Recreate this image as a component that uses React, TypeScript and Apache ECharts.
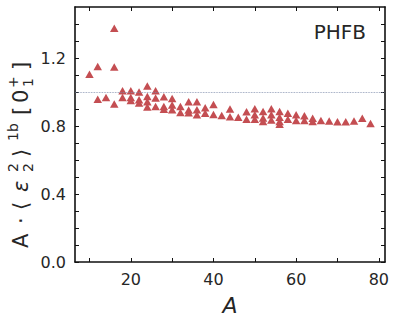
import React, { useEffect, useRef } from 'react';
import * as echarts from 'echarts';

// Mass numbers A and the PHFB values of A·<eps2^2>^{1b}[0_1^+] at each A
const massNumbers = [10, 12, 14, 16, 18, 20, 22, 24, 26, 28, 30, 32, 34, 36, 38, 40, 42, 44, 46, 48, 50, 52, 54, 56, 58, 60, 62, 64, 66, 68, 70, 72, 74, 76, 78];
const ratioValues: number[][] = [
  [1.105],
  [1.15, 0.957],
  [0.967],
  [1.375, 1.147, 0.93],
  [1.007, 0.967],
  [1.008, 0.968, 0.95],
  [1.0, 0.955, 0.936],
  [1.035, 0.974, 0.943, 0.912],
  [1.007, 0.965, 0.914],
  [0.972, 0.914, 0.898],
  [0.962, 0.924, 0.895],
  [0.914, 0.88],
  [0.943, 0.894, 0.878],
  [0.943, 0.896, 0.866],
  [0.907, 0.875],
  [0.927, 0.868],
  [0.862],
  [0.9, 0.854],
  [0.851],
  [0.884, 0.84],
  [0.902, 0.866, 0.84],
  [0.886, 0.847, 0.827],
  [0.902, 0.866, 0.836],
  [0.886, 0.852, 0.826, 0.81],
  [0.875, 0.84],
  [0.866, 0.832],
  [0.86, 0.832],
  [0.846, 0.827],
  [0.832],
  [0.83],
  [0.825],
  [0.825],
  [0.83],
  [0.845],
  [0.814],
];
const xTickValues = [10, 20, 30, 40, 50, 60, 70, 80];
const xLabelValues = [20, 40, 60, 80];
const yTickValues = [0, 0.1, 0.2, 0.3, 0.4, 0.5, 0.6, 0.7, 0.8, 0.9, 1.0, 1.1, 1.2, 1.3, 1.4];
const yLabelValues = [0, 0.4, 0.8, 1.2];
const referenceLevel = 1.0;
const panelLabel = 'PHFB';
const xAxisTitle = 'A';

export default function App() {
  const ref = useRef<HTMLDivElement>(null);
  useEffect(() => {
    const chart = echarts.init(ref.current!, null, { renderer: 'svg' });
    const points: number[][] = [];
    massNumbers.forEach((a, i) => ratioValues[i].forEach((v) => points.push([a, v])));

    const font = 'DejaVu Sans';
    const textColor = '#262626';
    const lineColor = '#111';

    const xBase = {
      type: 'value', min: 6.5, max: 81.5,
      axisLine: { show: true, onZero: false, lineStyle: { color: lineColor, width: 1.6 } },
      axisTick: { show: true, inside: true, length: 4, customValues: xTickValues, lineStyle: { color: lineColor, width: 1 } },
      splitLine: { show: false },
    };
    const yBase = {
      type: 'value', min: 0, max: 1.5,
      axisLine: { show: true, onZero: false, lineStyle: { color: lineColor, width: 1.6 } },
      axisTick: { show: true, inside: true, length: 4, customValues: yTickValues, lineStyle: { color: lineColor, width: 1 } },
      splitLine: { show: false },
    };

    const main = { fontFamily: font, fontSize: 21, fill: textColor };
    const small = { fontFamily: font, fontSize: 14, fill: textColor };
    const piece = (text: string, x: number, kind: 'main' | 'sup' | 'sub', italic = false) => {
      const st: any = kind === 'main' ? { ...main } : { ...small };
      const y = kind === 'main' ? -7.5 : kind === 'sup' ? -15 : -0.5;
      return {
        type: 'text', x, y,
        style: { ...st, text, fontStyle: italic ? 'italic' : 'normal', textAlign: 'left', align: 'left', textVerticalAlign: 'middle', verticalAlign: 'middle' },
      };
    };

    chart.setOption({
      animation: false,
      grid: { left: 75, right: 12, top: 7, bottom: 59, containLabel: false },
      xAxis: [
        {
          ...xBase, position: 'bottom',
          name: xAxisTitle, nameLocation: 'middle', nameGap: 32,
          nameTextStyle: { fontFamily: font, fontSize: 22, fontStyle: 'italic', color: textColor },
          axisLabel: { show: true, customValues: xLabelValues, fontFamily: font, fontSize: 16, color: textColor, margin: 9 },
        },
        { ...xBase, position: 'top', axisLabel: { show: false } },
      ],
      yAxis: [
        {
          ...yBase, position: 'left',
          axisLabel: { show: true, customValues: yLabelValues, fontFamily: font, fontSize: 16, color: textColor, margin: 9, formatter: (v: number) => v.toFixed(1) },
        },
        { ...yBase, position: 'right', axisLabel: { show: false } },
      ],
      graphic: [
        {
          type: 'text', right: 31, top: 22,
          style: { text: panelLabel, fontFamily: font, fontSize: 20, fill: textColor },
        },
        {
          type: 'group', x: 28, y: 248, rotation: Math.PI / 2,
          children: [
            piece('A', 0, 'main'),
            piece('·', 24, 'main'),
            piece('⟨', 38, 'main'),
            piece('ε', 56, 'main', true),
            piece('2', 76, 'sup'),
            piece('2', 76, 'sub'),
            piece('⟩', 91, 'main'),
            piece('1b', 107, 'sup'),
            piece('[', 133, 'main'),
            piece('0', 145, 'main'),
            piece('+', 160, 'sup'),
            piece('1', 161, 'sub'),
            piece(']', 178, 'main'),
          ],
        },
      ],
      series: [
        {
          type: 'scatter',
          data: points,
          symbol: 'triangle',
          symbolSize: [8.5, 7.5],
          itemStyle: { color: '#c44e52', opacity: 1 },
          markLine: {
            silent: true, symbol: 'none', label: { show: false },
            lineStyle: { color: '#7d8cab', type: 'dotted', width: 0.8 },
            data: [{ yAxis: referenceLevel }],
          },
        },
      ],
    });
    return () => chart.dispose();
  }, []);
  return <div ref={ref} style={{ position: 'absolute', left: 0, top: 0, width: 397, height: 321 }} />;
}
